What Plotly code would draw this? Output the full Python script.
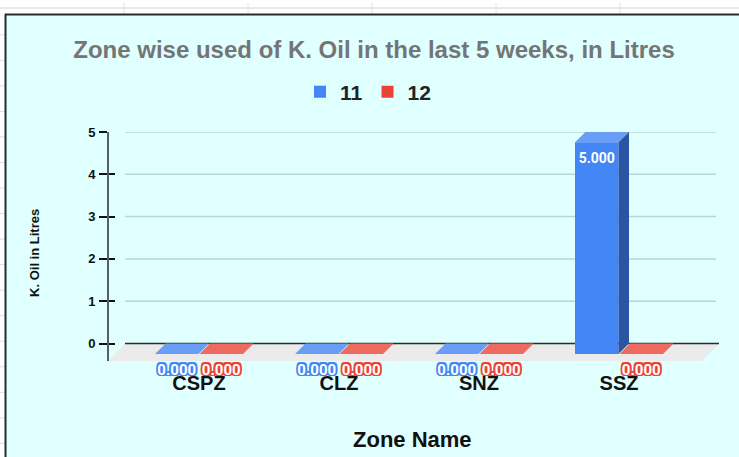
import plotly.graph_objects as go

# ---------------- data ----------------
categories = ["CSPZ", "CLZ", "SNZ", "SSZ"]
series_names = ["11", "12"]
values_11 = [0, 0, 0, 5]
values_12 = [0, 0, 0, 0]
y_ticks = [0, 1, 2, 3, 4, 5]

# ---------------- geometry (pixels) ----------------
W_FIG, H_FIG = 739, 457
PL, PR, PT, PB = 108, 719, 130, 368      # plot area
FLOOR_PX = 361                          # front edge of the floor
Y0_PX = 343.3                           # back-plane zero line
U = (Y0_PX - PT) / max(y_ticks)          # px per unit
CAT0_PX, CAT_STEP = 199, 140             # first category centre, spacing

def xd(px):
    return (px - CAT0_PX) / CAT_STEP

def yd(py):
    return (Y0_PX - py) / U

def xp(px):
    return (px - PL) / (PR - PL)

def yp(py):
    return (PB - py) / (PB - PT)

x_range = [xd(PL), xd(PR)]
y_range = [yd(PB), yd(PT)]

BAR_W = 43.5 / CAT_STEP
GAP = 1.0 / CAT_STEP
DX = 10.5 / CAT_STEP
DY = 10.5 / U

FONT = "Liberation Sans, Arial, sans-serif"
LBL_FONT = "Roboto, Arial, sans-serif"

series = [
    dict(name=series_names[0], vals=values_11, front="#4285F4", top="#6A9DF6", side="#2B55A2",
         off=-(GAP / 2 + BAR_W)),
    dict(name=series_names[1], vals=values_12, front="#EA4335", top="#EE6A5F", side="#A8302A",
         off=GAP / 2),
]

fig = go.Figure()

idx = list(range(len(categories)))

for s in series:
    # front faces
    fig.add_trace(go.Bar(
        x=idx, y=s["vals"], base=-DY, width=BAR_W, offset=s["off"],
        name=s["name"], marker=dict(color=s["front"], line=dict(width=0)),
        hoverinfo="skip",
    ))

for s in series:
    tx, ty, sx, sy = [], [], [], []
    for i, v in zip(idx, s["vals"]):
        x0 = i + s["off"]
        x1 = x0 + BAR_W
        tx += [x0, x1, x1 + DX, x0 + DX, x0, None]
        ty += [v - DY, v - DY, v, v, v - DY, None]
        if v > 0:
            sx += [x1, x1, x1 + DX, x1 + DX, x1, None]
            sy += [-DY, v - DY, v, 0, -DY, None]
    fig.add_trace(go.Scatter(x=tx, y=ty, mode="lines", fill="toself", fillcolor=s["top"],
                             line=dict(width=0, color=s["top"]), showlegend=False, hoverinfo="skip"))
    if sx:
        fig.add_trace(go.Scatter(x=sx, y=sy, mode="lines", fill="toself", fillcolor=s["side"],
                                 line=dict(width=0, color=s["side"]), showlegend=False, hoverinfo="skip"))

# data labels
OUTLINE = [(a, b) for a in (-1.7, 0, 1.7) for b in (-1.7, 0, 1.7) if (a, b) != (0, 0)]
for s in series:
    in_x, in_y, in_t, out_x, out_y, out_t = [], [], [], [], [], []
    for i, v in zip(idx, s["vals"]):
        cx = i + s["off"] + BAR_W / 2
        if v * U > 30:
            in_x.append(cx); in_y.append(v - DY - 17 / U); in_t.append(f"{v:.3f}")
        else:
            # anchor inside the plot range; text hangs below it
            out_x.append(cx); out_y.append(yd(363.5)); out_t.append(f"{v:.3f}")
    if in_x:
        fig.add_trace(go.Scatter(x=in_x, y=in_y, mode="text", text=in_t,
                                 textfont=dict(family=LBL_FONT, size=14, color="white", weight="bold"),
                                 showlegend=False, hoverinfo="skip", cliponaxis=False))
    if out_x:
        # coloured halo drawn as shifted copies, then white text on top
        for (ox, oy) in OUTLINE:
            fig.add_trace(go.Scatter(x=[x + ox / CAT_STEP for x in out_x], y=[y + oy / U for y in out_y],
                                     mode="text", text=out_t, textposition="bottom center",
                                     textfont=dict(family=LBL_FONT, size=15, color=s["front"], weight="bold"),
                                     showlegend=False, hoverinfo="skip", cliponaxis=False))
        fig.add_trace(go.Scatter(x=out_x, y=out_y, mode="text", text=out_t, textposition="bottom center",
                                 textfont=dict(family=LBL_FONT, size=15, color="white", weight="bold"),
                                 showlegend=False, hoverinfo="skip", cliponaxis=False))

# carrier for the second (inside-tick) axis
fig.add_trace(go.Scatter(x=[None], y=[None], yaxis="y2", showlegend=False, hoverinfo="skip"))

# ---------------- decorations ----------------
shapes = []
# spreadsheet background lines
shapes.append(dict(type="line", xref="paper", yref="paper", x0=xp(0), x1=xp(W_FIG), y0=yp(5), y1=yp(5),
                   line=dict(color="#e2e2e2", width=1.5), layer="below"))
for vx in [124, 248, 372, 496, 620]:
    shapes.append(dict(type="line", xref="paper", yref="paper", x0=xp(vx), x1=xp(vx), y0=yp(0), y1=yp(11),
                       line=dict(color="#e2e2e2", width=1), layer="below"))
ry = 32.0
while ry < H_FIG:
    shapes.append(dict(type="line", xref="paper", yref="paper", x0=xp(0), x1=xp(5), y0=yp(ry), y1=yp(ry),
                       line=dict(color="#dcdcdc", width=1), layer="below"))
    ry += 25.75
# chart background
shapes.append(dict(type="rect", xref="paper", yref="paper", x0=xp(5), x1=xp(W_FIG + 5), y0=yp(H_FIG + 5),
                   y1=yp(11), fillcolor="#E0FFFF", line=dict(width=0), layer="below"))
shapes.append(dict(type="line", xref="paper", yref="paper", x0=xp(5), x1=xp(W_FIG + 5), y0=yp(11.5), y1=yp(11.5),
                   line=dict(color="#2a2a2a", width=2), layer="below"))
shapes.append(dict(type="line", xref="paper", yref="paper", x0=xp(5.5), x1=xp(5.5), y0=yp(11), y1=yp(H_FIG + 5),
                   line=dict(color="#2a2a2a", width=2), layer="below"))
# floor
fx = [xd(108), xd(702), xd(719), xd(125)]
fy = [yd(FLOOR_PX), yd(FLOOR_PX), 0, 0]
shapes.append(dict(type="path", xref="x", yref="y",
                   path=f"M{fx[0]},{fy[0]} L{fx[1]},{fy[1]} L{fx[2]},{fy[2]} L{fx[3]},{fy[3]} Z",
                   fillcolor="#EBEBEB", line=dict(width=0), layer="below"))
# gridlines
for t in y_ticks:
    if t == 0:
        shapes.append(dict(type="line", xref="x", yref="y", x0=xd(125), x1=xd(719), y0=t, y1=t,
                           line=dict(color="#2b2b2b", width=1.5), layer="below"))
    else:
        shapes.append(dict(type="line", xref="x", yref="y", x0=xd(125), x1=xd(716), y0=t, y1=t,
                           line=dict(color="#B8D6D6", width=1.5), layer="below"))
# vertical axis line (from the top tick down to the floor's front edge)
shapes.append(dict(type="line", xref="paper", yref="y", x0=0, x1=0, y0=yd(FLOOR_PX), y1=max(y_ticks),
                   line=dict(color="#56605f", width=2), layer="above"))

annotations = [
    dict(text="<b>Zone Name</b>", xref="paper", yref="paper", x=xp(412), y=yp(440), showarrow=False,
         xanchor="center", yanchor="middle", font=dict(family=FONT, size=22, color="#111")),
    dict(text="<b>K. Oil in Litres</b>", xref="paper", yref="paper", x=xp(35), y=yp(252), showarrow=False,
         textangle=-90, xanchor="center", yanchor="middle", font=dict(family=FONT, size=13, color="#111")),
]

fig.update_layout(
    width=W_FIG, height=H_FIG,
    margin=dict(l=PL, r=W_FIG - PR, t=PT, b=H_FIG - PB, pad=0),
    paper_bgcolor="white", plot_bgcolor="rgba(0,0,0,0)",
    barmode="overlay",
    title=dict(text="<b>Zone wise used of K. Oil in the last 5 weeks, in Litres</b>",
               x=374 / W_FIG, xref="container", xanchor="center",
               y=1 - 50 / H_FIG, yref="container", yanchor="middle",
               font=dict(family=FONT, size=24, color="#757575")),
    legend=dict(orientation="h", xref="container", yref="container", x=368 / W_FIG, xanchor="center",
                y=1 - 92 / H_FIG, yanchor="middle", bgcolor="rgba(0,0,0,0)",
                font=dict(family=FONT, size=21, color="#222", weight="bold"), itemclick=False,
                itemdoubleclick=False),
    xaxis=dict(range=x_range, tickvals=idx, ticktext=categories, showgrid=False, zeroline=False,
               showline=False, ticks="", ticklabelstandoff=1,
               tickfont=dict(family=FONT, size=20, color="#111", weight="bold")),
    yaxis=dict(range=y_range, tickvals=y_ticks, showgrid=False, zeroline=False, showline=False,
               ticks="outside", ticklen=8, tickwidth=2, tickcolor="#111",
               ticklabelstandoff=1,
               tickfont=dict(family=FONT, size=13, color="#111", weight="bold")),
    yaxis2=dict(range=y_range, overlaying="y", side="left", tickvals=y_ticks, showgrid=False, zeroline=False,
                showline=False, ticks="inside", ticklen=7, tickwidth=2, tickcolor="#111", showticklabels=False),
    shapes=shapes, annotations=annotations,
)

fig.write_html("out.html", post_script="document.body.style.margin='0';",
               config={"displayModeBar": False})
